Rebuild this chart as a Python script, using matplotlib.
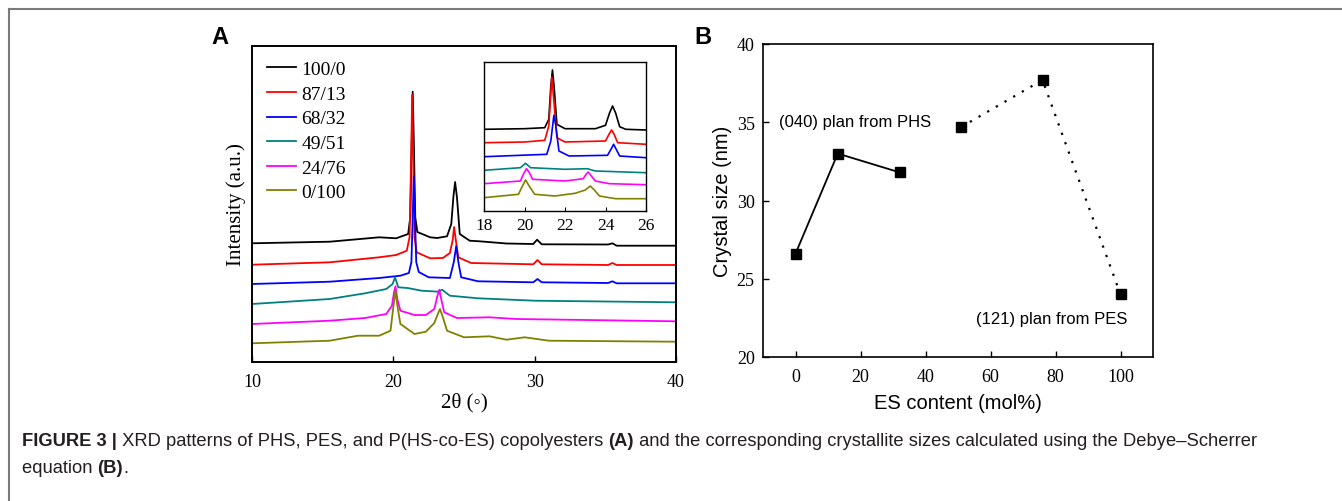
import matplotlib
matplotlib.use("Agg")
import matplotlib.pyplot as plt
from matplotlib.lines import Line2D

# ── Panel A: XRD patterns (2θ, stacked intensity in a.u.) ─────────────────────
labels = ["100/0", "87/13", "68/32", "49/51", "24/76", "0/100"]
colors = ["#000000", "#ff0000", "#0000ff", "#008080", "#ff00ff", "#808000"]

x_100_0 = [10, 15.5, 19.0, 20.2, 21.05, 21.2, 21.3, 21.37, 21.45, 21.55, 21.7, 22.6, 23.1, 23.8,
           24.1, 24.25, 24.37, 24.5, 24.7, 25.4, 26.1, 28.0, 29.9, 30.17, 30.5, 35.2, 35.5, 35.8, 40]
y_100_0 = [118.7, 120.3, 124.7, 123.7, 128, 145, 220, 270.3, 220, 145, 130, 124.7, 124, 125.7,
           138, 165, 180, 165, 128, 121.3, 120.7, 118.5, 118, 122.3, 117.7, 117.5, 118.7, 116.3, 116.3]

x_87_13 = [10, 15.5, 19.0, 20.2, 20.95, 21.15, 21.27, 21.33, 21.4, 21.5, 21.65, 22.6, 23.5, 24.0,
           24.2, 24.3, 24.42, 24.6, 25.5, 29.9, 30.2, 30.5, 35.2, 35.5, 35.8, 40]
y_87_13 = [97.3, 99.7, 104.7, 107, 111.3, 125, 210, 267, 210, 125, 109.7, 103.7, 104, 109,
           122, 135, 122, 104.7, 99, 97.7, 102, 97.7, 97, 99, 97, 97]

x_68_32 = [10, 15.5, 19.0, 20.5, 21.1, 21.28, 21.38, 21.45, 21.52, 21.62, 21.8, 22.5, 24.0, 24.28,
           24.45, 24.6, 24.8, 26.0, 29.9, 30.2, 30.5, 35.2, 35.5, 35.8, 40]
y_68_32 = [78, 80.3, 84, 86.3, 89, 100, 150, 185.7, 150, 100, 90, 84.7, 84, 100,
           116, 100, 84.7, 80.7, 79.7, 83, 79.7, 79, 80.7, 78.7, 78.7]

x_49_51 = [10, 15.5, 18.0, 19.5, 19.95, 20.12, 20.35, 21.0, 22.0, 23.2, 23.45, 24.0, 26.0, 30.0, 40]
y_49_51 = [58, 63, 68.7, 73, 78, 84.7, 74.7, 74, 71.3, 70.3, 72.3, 66.3, 63.7, 61.3, 59.7]

x_24_76 = [10, 15.5, 18.0, 19.5, 19.9, 20.05, 20.15, 20.3, 20.5, 21.5, 22.3, 22.9, 23.1, 23.25, 23.4,
           23.6, 24.5, 26.8, 28.7, 40]
y_24_76 = [38, 41.3, 44, 48, 56.3, 70, 75.7, 62, 51.3, 47, 47, 53, 65, 72.3, 62,
           49.7, 44, 44.7, 43, 40.7]

x_0_100 = [10, 15.5, 17.5, 19.0, 19.8, 20.0, 20.15, 20.3, 20.5, 21.5, 22.3, 22.9, 23.15, 23.3, 23.5,
           23.8, 25.0, 26.8, 28.0, 29.3, 31.0, 40]
y_0_100 = [18.7, 21.3, 26.3, 26.3, 31.3, 55, 71.3, 55, 38, 28, 30.3, 39, 48, 53, 45,
           31.3, 24.7, 25.7, 22.3, 24.7, 21.3, 20.3]

# ── Panel A inset: zoom 18–26° ────────────────────────────────────────────────
ix_100_0 = [18, 20, 21.0, 21.2, 21.3, 21.38, 21.46, 21.6, 22.0, 23.5, 24.0, 24.2, 24.35, 24.5, 24.7, 25.0, 26]
iy_100_0 = [81.7, 82.3, 83.3, 91.7, 125, 141, 125, 86.7, 82.3, 82.3, 85.7, 98, 105, 98, 84.3, 81.7, 81]

ix_87_13 = [18, 20, 21.0, 21.2, 21.35, 21.45, 21.6, 22.0, 24.0, 24.18, 24.3, 24.42, 24.6, 26]
iy_87_13 = [68.3, 69, 70.7, 85, 134, 110, 73.3, 69, 70, 77, 81, 77, 68.3, 66.7]

ix_68_32 = [18, 21.1, 21.3, 21.45, 21.55, 21.7, 22.2, 24.1, 24.28, 24.4, 24.52, 24.7, 26]
iy_68_32 = [54.3, 56.7, 70, 95.7, 85, 60, 55, 55.7, 62, 66.7, 62, 55, 53.3]

ix_49_51 = [18, 19.8, 20.05, 20.3, 22.0, 23.1, 23.5, 26]
iy_49_51 = [40.7, 43.3, 47.7, 43.3, 41.7, 42.3, 40, 38.3]

ix_24_76 = [18, 19.8, 19.95, 20.1, 20.25, 20.4, 22.0, 22.9, 23.05, 23.15, 23.3, 23.5, 24.2, 26]
iy_24_76 = [27.3, 30, 37, 42.3, 38, 31.7, 30, 32.3, 37, 39, 35, 30, 27.3, 26.3]

ix_0_100 = [18, 19.7, 19.9, 20.05, 20.2, 20.5, 21.5, 22.5, 23.0, 23.25, 23.45, 23.7, 24.5, 26]
iy_0_100 = [13.3, 16.7, 25, 31, 26, 16.7, 15, 17.7, 21, 25, 21, 15, 12.3, 12.3]

# ── Panel B: crystal size vs ES content ───────────────────────────────────────
es_phs = [0, 13, 32]
size_phs = [26.6, 33.0, 31.8]
es_pes = [51, 76, 100]
size_pes = [34.7, 37.7, 24.0]

caption_parts = [
    ("FIGURE 3 |", "bold"),
    (" XRD patterns of PHS, PES, and P(HS-co-ES) copolyesters ", "normal"),
    ("(A)", "bold"),
    (" and the corresponding crystallite sizes calculated using the Debye\u2013Scherrer", "normal"),
]
caption_line2 = [("equation ", "normal"), ("(B)", "bold"), (".", "normal")]

SERIF = ["Liberation Serif", "DejaVu Serif", "DejaVu Sans"]
SANS = ["Liberation Sans", "DejaVu Sans"]

W, H = 1342, 502
fig = plt.figure(figsize=(W / 100, H / 100), dpi=100)


def box(l, r, t, b):
    return [l / W, (H - b) / H, (r - l) / W, (b - t) / H]


# ── Panel A ───────────────────────────────────────────────────────────────────
axA = fig.add_axes(box(252, 676, 47, 363))
main_x = [x_100_0, x_87_13, x_68_32, x_49_51, x_24_76, x_0_100]
main_y = [y_100_0, y_87_13, y_68_32, y_49_51, y_24_76, y_0_100]
for xs, ys, c in zip(main_x, main_y, colors):
    axA.plot(xs, ys, color=c, lw=1.3)
axA.set_xlim(10, 40)
axA.set_ylim(0, 316)
axA.set_xticks([10, 20, 30, 40])
axA.set_yticks([])
axA.tick_params(axis="x", direction="in", length=4, width=1.0, pad=8)
for lab in axA.get_xticklabels():
    lab.set_fontfamily(SERIF)
    lab.set_fontsize(13)
for sp in axA.spines.values():
    sp.set_linewidth(1.4)
axA.set_xlabel("2\u03b8 (\u25e6)", family=SERIF, fontsize=15, labelpad=1)
axA.set_ylabel("Intensity (a.u.)", family=SERIF, fontsize=15, labelpad=4)

handles = [Line2D([], [], color=c, lw=1.3) for c in colors]
axA.legend(handles, labels, loc="upper left", bbox_to_anchor=(0.0, 1.0),
           frameon=False, handlelength=1.5, handletextpad=0.3, labelspacing=0.36,
           borderaxespad=0.35, prop={"family": SERIF, "size": 14})

# inset
axI = fig.add_axes(box(484, 646, 63, 212))
ins_x = [ix_100_0, ix_87_13, ix_68_32, ix_49_51, ix_24_76, ix_0_100]
ins_y = [iy_100_0, iy_87_13, iy_68_32, iy_49_51, iy_24_76, iy_0_100]
for xs, ys, c in zip(ins_x, ins_y, colors):
    axI.plot(xs, ys, color=c, lw=1.2)
axI.set_xlim(18, 26)
axI.set_ylim(0, 149)
axI.set_xticks([18, 20, 22, 24, 26])
axI.set_yticks([])
axI.tick_params(axis="x", direction="in", length=3, width=0.8, pad=4)
for lab in axI.get_xticklabels():
    lab.set_fontfamily(SERIF)
    lab.set_fontsize(12.5)
for sp in axI.spines.values():
    sp.set_linewidth(1.0)

# ── Panel B ───────────────────────────────────────────────────────────────────
axB = fig.add_axes(box(763, 1153, 45, 358))
axB.plot(es_phs, size_phs, color="black", lw=1.3, ls="-", marker="s", ms=6.5)
axB.plot(es_pes, size_pes, color="black", lw=1.6, ls=(0, (1, 3.5)), marker="s", ms=6.5)
axB.set_xlim(-10, 110)
axB.set_ylim(20, 40)
axB.set_xticks([0, 20, 40, 60, 80, 100])
axB.set_yticks([20, 25, 30, 35, 40])
axB.tick_params(direction="in", length=4, width=1.0, pad=6)
axB.tick_params(axis="x", pad=8)
for lab in axB.get_xticklabels() + axB.get_yticklabels():
    lab.set_fontfamily(SERIF)
    lab.set_fontsize(13)
for sp in axB.spines.values():
    sp.set_linewidth(1.2)
axB.set_xlabel("ES content (mol%)", family=SANS, fontsize=14.5, labelpad=6)
axB.set_ylabel("Crystal size (nm)", family=SANS, fontsize=14.5, labelpad=3)
axB.text(-5, 35.05, "(040) plan from PHS", family=SANS, fontsize=12, va="center")
axB.text(102, 22.45, "(121) plan from PES", family=SANS, fontsize=12, va="center", ha="right")

# panel letters
fig.text(220 / W, 1 - 38 / H, "A", family=SANS, fontweight="bold", fontsize=17,
         ha="center", va="center")
fig.text(703 / W, 1 - 38 / H, "B", family=SANS, fontweight="bold", fontsize=17,
         ha="center", va="center")

# outer frame (top + left)
fig.add_artist(Line2D([9 / W, 9 / W], [0, 1 - 10 / H], color="#7a7a7a", lw=1.5))
fig.add_artist(Line2D([9 / W, 1], [1 - 10 / H, 1 - 10 / H], color="#7a7a7a", lw=1.5))

# caption with mixed weights
renderer = fig.canvas.get_renderer()


def chain(parts, x_px, y_px):
    x = x_px / W
    for s, w in parts:
        t = fig.text(x, 1 - y_px / H, s, fontweight=w, fontsize=13.2, color="#231f20",
                     family=SANS, va="center")
        bb = t.get_window_extent(renderer)
        x = bb.x1 / W


chain(caption_parts, 22, 442)
chain(caption_line2, 22, 469)

fig.savefig("out.png", dpi=100)
